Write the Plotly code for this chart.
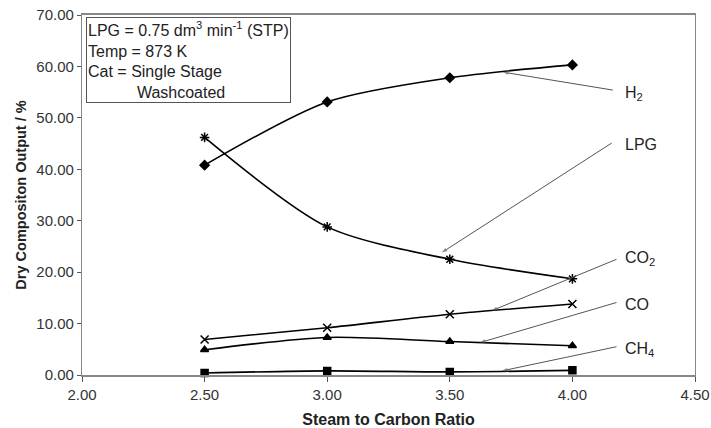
import plotly.graph_objects as go

ratio = [2.5, 3.0, 3.5, 4.0]
h2 = [40.8, 53.1, 57.8, 60.3]
lpg = [46.2, 28.8, 22.5, 18.7]
co2 = [6.9, 9.2, 11.8, 13.8]
co = [4.9, 7.3, 6.5, 5.7]
ch4 = [0.4, 0.8, 0.6, 0.9]

x_ticks = [2.0, 2.5, 3.0, 3.5, 4.0, 4.5]
y_ticks = [0, 10, 20, 30, 40, 50, 60, 70]

# label text, label position, arrow tail, arrow head (data coords)
labels = [
    ("H<sub>2</sub>", 4.205, 54.8, 4.165, 55.4, 3.716, 58.9),
    ("LPG", 4.205, 44.9, 4.16, 45.1, 3.467, 23.8),
    ("CO<sub>2</sub>", 4.205, 22.6, 4.18, 22.5, 3.671, 12.5),
    ("CO", 4.205, 13.8, 4.18, 14.1, 3.623, 6.3),
    ("CH<sub>4</sub>", 4.205, 4.9, 4.18, 5.5, 3.712, 0.8),
]

FONT = "Liberation Sans, Arial, sans-serif"
fig = go.Figure()

series = [
    (h2, "diamond", 7),
    (lpg, "asterisk-open", 8),
    (co2, "x-thin-open", 8),
    (co, "triangle-up", 7),
    (ch4, "square", 7),
]
for ys, sym, sz in series:
    fig.add_trace(go.Scatter(
        x=ratio, y=ys, mode="lines+markers",
        line=dict(color="black", width=1.6, shape="spline", smoothing=0.8),
        marker=dict(symbol=sym, size=sz, color="black",
                    line=dict(color="black", width=1.5)),
        showlegend=False, cliponaxis=False, hoverinfo="skip",
    ))

for txt, lx, ly, tx, ty, hx, hy in labels:
    fig.add_trace(go.Scatter(
        x=[tx, hx], y=[ty, hy], mode="lines+markers",
        line=dict(color="#555555", width=1),
        marker=dict(symbol=["circle", "arrow"], size=[0, 6],
                    angleref="previous", color="#555555",
                    line=dict(width=0)),
        showlegend=False, hoverinfo="skip", cliponaxis=False,
    ))
    fig.add_annotation(x=lx, y=ly, xref="x", yref="y", text=txt,
                       showarrow=False, xanchor="left", yanchor="middle",
                       font=dict(family=FONT, size=16, color="#222222"))

fig.add_annotation(
    x=0.0065, y=0.995, xref="paper", yref="paper", xanchor="left", yanchor="top",
    text="LPG = 0.75 dm<sup>3</sup> min<sup>-1</sup> (STP)<br>Temp = 873 K<br>"
         "Cat = Single Stage<br>           Washcoated",
    align="left", showarrow=False, bordercolor="#555555", borderwidth=1,
    borderpad=1, bgcolor="white",
    font=dict(family=FONT, size=16, color="#222222"),
)

fig.update_xaxes(
    range=[2.0, 4.5], tickvals=x_ticks, ticktext=[f"{v:.2f}" for v in x_ticks],
    showgrid=False, zeroline=False, showline=True, linecolor="#888888",
    linewidth=1.5, mirror=True, ticks="outside", ticklen=5, tickcolor="#555555",
    tickfont=dict(family=FONT, size=15, color="#333333"), automargin=False,
    title=dict(text="<b>Steam to Carbon Ratio</b>", standoff=12,
               font=dict(family=FONT, size=16, color="#222222")),
)
fig.update_yaxes(
    range=[0, 70], tickvals=y_ticks, ticktext=[f"{v:.2f}" for v in y_ticks],
    showgrid=False, zeroline=False, showline=True, linecolor="#888888",
    linewidth=1.2, mirror=True, ticks="outside", ticklen=4, tickcolor="#555555",
    tickfont=dict(family=FONT, size=15, color="#333333"), automargin=False,
    title=dict(text="<b>Dry Compositon Output / %</b>", standoff=6,
               font=dict(family=FONT, size=14.5, color="#222222")),
)
fig.update_layout(
    width=711, height=428, margin=dict(l=82, r=16, t=15, b=53),
    plot_bgcolor="white", paper_bgcolor="white",
)
fig.write_html("out.html")
